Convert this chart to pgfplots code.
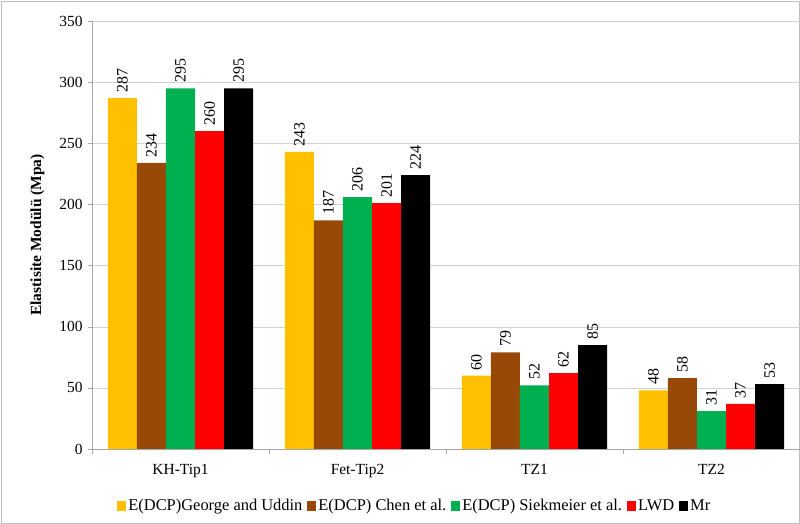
\documentclass[border=0pt]{standalone}
\usepackage{pgfplots}
\pgfplotsset{compat=1.18}
\usepackage{fontspec}
\setmainfont{Liberation Serif}
\definecolor{cY}{HTML}{FFC000}
\definecolor{cB}{HTML}{984807}
\definecolor{cG}{HTML}{00B050}
\definecolor{cR}{HTML}{FF0000}
\begin{document}
\fontsize{16}{18}\selectfont
\begin{tikzpicture}
\useasboundingbox (0,0) rectangle (800bp,524bp);
\draw[gray!50] (1bp,1bp) rectangle (799bp,523bp);
\begin{axis}[at={(92bp,75bp)}, anchor=south west,
  scale only axis, width=708bp, height=428bp,
  ybar=0pt, bar width=0.164,
  ymin=0, ymax=350, ytick={0,50,...,350},
  xmin=-0.5, xmax=3.5, xtick={0,1,2,3},
  minor xtick={-0.5,0.5,1.5,2.5,3.5},
  xticklabels={KH-Tip1,Fet-Tip2,TZ1,TZ2},
  axis x line*=bottom, axis y line*=left,
  x axis line style={-, gray!70}, y axis line style={-, gray!70},
  tick align=outside, major tick length=4bp, minor tick length=5bp,
  tick style={gray!70}, xtick style={draw=none},
  minor x tick style={draw=gray!70},
  ymajorgrids, grid style={gray!35},
  xticklabel style={yshift=-6bp},
  ylabel={\textbf{Elastisite Modülü (Mpa)}},
  ylabel style={yshift=4bp, font=\fontsize{15.5}{17}\selectfont},
  /pgf/number format/assume math mode=true,
  ticklabel style={font=\fontsize{15.5}{18}\selectfont},
  nodes near coords, every node near coord/.append style={rotate=90, anchor=west, font=\fontsize{16}{18}\selectfont, black},
  legend style={at={(0.456,-0.108)}, anchor=north, draw=none, legend columns=-1, font=\fontsize{16.5}{18}\selectfont,
    /tikz/every even column/.append style={column sep=3bp}},
  legend image code/.code={\fill[#1] (0bp,-5bp) rectangle (9bp,5bp);},
]
\addplot[fill=cY, draw=none] coordinates {(0,287) (1,243) (2,60) (3,48)};
\addplot[fill=cB, draw=none] coordinates {(0,234) (1,187) (2,79) (3,58)};
\addplot[fill=cG, draw=none] coordinates {(0,295) (1,206) (2,52) (3,31)};
\addplot[fill=cR, draw=none] coordinates {(0,260) (1,201) (2,62) (3,37)};
\addplot[fill=black, draw=none] coordinates {(0,295) (1,224) (2,85) (3,53)};
\legend{E(DCP)George and Uddin, E(DCP) Chen et al., E(DCP) Siekmeier et al., LWD, Mr}
\end{axis}
\end{tikzpicture}
\end{document}
